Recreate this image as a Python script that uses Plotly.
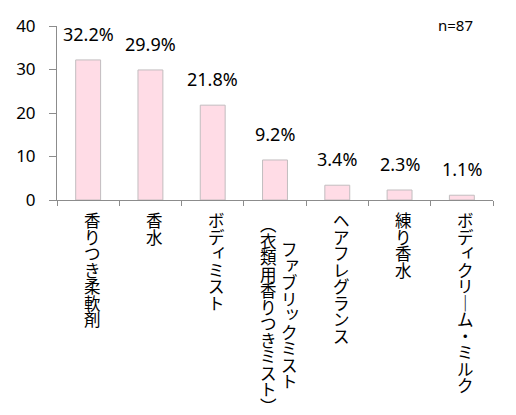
import plotly.graph_objects as go

# ---- data ----
categories = [
    "香りつき柔軟剤",
    "香水",
    "ボディミスト",
    "ファブリックミスト<br>（衣類用香りつきミスト）",
    "ヘアフレグランス",
    "練り香水",
    "ボディクリーム・ミルク",
]
values = [32.2, 29.9, 21.8, 9.2, 3.4, 2.3, 1.1]
value_labels = [f"{v:.1f}%" for v in values]
sample_note = "n=87"
y_ticks = [0, 10, 20, 30, 40]

# vertical-writing substitutions
VERT = {"（": "︵", "）": "︶", "(": "︵", ")": "︶", "ー": "｜"}
SMALL = set("ァィゥェォッャュョヮぁぃぅぇぉっゃゅょ")

FONT_LATIN = "Noto Sans, Noto Sans CJK JP, sans-serif"
FONT_CJK = "Noto Sans CJK JP, sans-serif"

fig = go.Figure()
fig.add_trace(go.Bar(
    x=categories, y=values, width=0.4,
    marker=dict(color="#FFDCE6", line=dict(color="#C2BDBF", width=1)),
    hoverinfo="skip",
))

ann = []
# value labels above bars
for c, v, t in zip(categories, values, value_labels):
    ann.append(dict(x=c, y=v, xref="x", yref="y", text=t, showarrow=False,
                    xanchor="center", yanchor="middle", yshift=26,
                    font=dict(family=FONT_LATIN, size=18, color="#000000")))

# vertical category labels (top-to-bottom, columns right-to-left)
vsize = 16.5
pitch = 16.5
col_gap = 21
for c in categories:
    cols = c.split("<br>")
    n = len(cols)
    longest = max(len(s) for s in cols)
    top0 = 12 if n == 1 else 16
    for j, s in enumerate(cols):
        colx = 4 + (n - 1) / 2 * col_gap - j * col_gap
        top = top0 + (longest - len(s)) * pitch / 2
        for i, ch in enumerate(s):
            dx, dy = (3, 3) if ch in SMALL else (0, 0)
            ann.append(dict(x=c, y=0, xref="x", yref="y", text=VERT.get(ch, ch),
                            showarrow=False, xanchor="center", yanchor="middle",
                            xshift=colx + dx, yshift=-(top + pitch * (i + 0.5)) + dy,
                            font=dict(family=FONT_CJK, size=vsize, color="#000000")))

ann.append(dict(x=0.915, y=1.006, xref="paper", yref="paper", text=sample_note,
                showarrow=False, xanchor="center", yanchor="middle",
                font=dict(family=FONT_LATIN, size=15, color="#000000")))

axis_col = "#8C8C8C"
fig.update_layout(
    width=516, height=415,
    margin=dict(l=49, r=31, t=18, b=223, autoexpand=False),
    paper_bgcolor="white", plot_bgcolor="white",
    showlegend=False,
    annotations=ann,
    xaxis=dict(showline=True, linecolor=axis_col, linewidth=1, automargin=False,
               ticks="outside", tickson="boundaries", ticklen=5, tickcolor=axis_col,
               showgrid=False, showticklabels=False, zeroline=False, fixedrange=True),
    yaxis=dict(range=[0, 40], tickvals=y_ticks, showline=True, linecolor=axis_col,
               linewidth=1, ticks="outside", ticklen=7, tickcolor=axis_col,
               ticklabelstandoff=10, automargin=False,
               showgrid=False, zeroline=False,
               tickfont=dict(family=FONT_LATIN, size=17, color="#000000")),
)

fig.write_html("out.html")
